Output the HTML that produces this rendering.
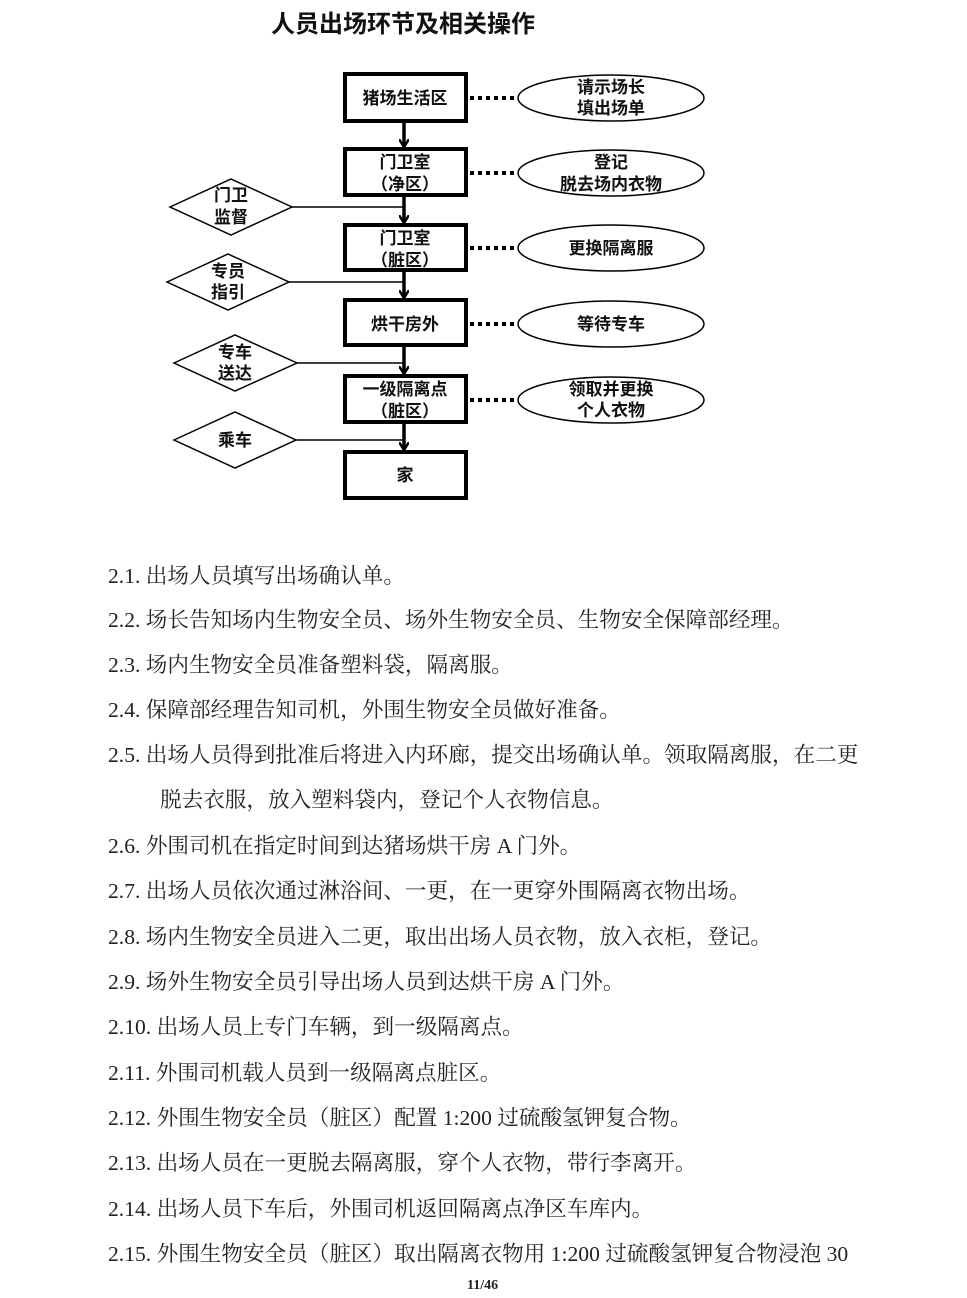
<!DOCTYPE html>
<html><head><meta charset="utf-8"><style>
body{margin:0;width:967px;height:1288px;background:#fff;position:relative;overflow:hidden}
.t{position:absolute;left:108px;font-family:"Liberation Serif","Noto Serif CJK SC",serif;font-size:21.6px;color:#222;white-space:nowrap;line-height:24px}
</style></head><body>
<svg width="967" height="520" style="position:absolute;left:0;top:0" font-family="Liberation Sans,Noto Sans CJK SC,sans-serif" font-weight="bold">
<defs><marker id="a" markerWidth="10" markerHeight="10" refX="7" refY="5" orient="auto" markerUnits="userSpaceOnUse"><path d="M0,0 L8,5 L0,10" fill="none" stroke="#000" stroke-width="2.5"/></marker></defs>
<text x="403" y="32" font-size="24" text-anchor="middle" fill="#111">人员出场环节及相关操作</text>
<g fill="#fff" stroke="#000" stroke-width="4">
<rect x="345" y="74" width="121" height="47"/>
<rect x="345" y="149" width="121" height="46"/>
<rect x="345" y="225" width="121" height="45"/>
<rect x="345" y="300" width="121" height="45"/>
<rect x="345" y="376" width="121" height="46"/>
<rect x="345" y="452" width="121" height="46"/>
</g>
<g fill="none" stroke="#000" stroke-width="1.5">
<ellipse cx="611" cy="98" rx="93" ry="23"/>
<ellipse cx="611" cy="173" rx="93" ry="23"/>
<ellipse cx="611" cy="248" rx="93" ry="23"/>
<ellipse cx="611" cy="324" rx="93" ry="23"/>
<ellipse cx="611" cy="400" rx="93" ry="23"/>
<polygon points="170,207 231,179 292,207 231,235"/>
<polygon points="167,282 228,254 289,282 228,310"/>
<polygon points="174,363 235,335 297,363 235,391"/>
<polygon points="174,440 235,412 296,440 235,468"/>
<line x1="292" y1="207" x2="404" y2="207"/>
<line x1="289" y1="282" x2="404" y2="282"/>
<line x1="297" y1="363" x2="404" y2="363"/>
<line x1="296" y1="440" x2="404" y2="440"/>
</g>
<g stroke="#000" stroke-width="3.5" marker-end="url(#a)">
<line x1="404" y1="121" x2="404" y2="146"/>
<line x1="404" y1="195" x2="404" y2="222"/>
<line x1="404" y1="270" x2="404" y2="297"/>
<line x1="404" y1="345" x2="404" y2="373"/>
<line x1="404" y1="422" x2="404" y2="449"/>
</g>
<g stroke="#000" stroke-width="4" stroke-dasharray="4,4">
<line x1="470" y1="98" x2="516" y2="98"/>
<line x1="470" y1="173" x2="516" y2="173"/>
<line x1="470" y1="248" x2="516" y2="248"/>
<line x1="470" y1="324" x2="516" y2="324"/>
<line x1="470" y1="400" x2="516" y2="400"/>
</g>
<g font-size="17" text-anchor="middle" fill="#111">
<text x="405" y="104">猪场生活区</text>
<text x="405" y="168">门卫室</text><text x="405" y="190">（净区）</text>
<text x="405" y="244">门卫室</text><text x="405" y="266">（脏区）</text>
<text x="405" y="330">烘干房外</text>
<text x="405" y="395">一级隔离点</text><text x="405" y="417">（脏区）</text>
<text x="405" y="481">家</text>
<text x="611" y="93">请示场长</text><text x="611" y="114">填出场单</text>
<text x="611" y="168">登记</text><text x="611" y="190">脱去场内衣物</text>
<text x="611" y="254">更换隔离服</text>
<text x="611" y="330">等待专车</text>
<text x="611" y="395">领取并更换</text><text x="611" y="416">个人衣物</text>
<text x="231" y="201">门卫</text><text x="231" y="223">监督</text>
<text x="228" y="277">专员</text><text x="228" y="298">指引</text>
<text x="235" y="358">专车</text><text x="235" y="379">送达</text>
<text x="235" y="446">乘车</text>
</g>
</svg>
<div class="t" style="top:564px">2.1. 出场人员填写出场确认单。</div>
<div class="t" style="top:608px">2.2. 场长告知场内生物安全员、场外生物安全员、生物安全保障部经理。</div>
<div class="t" style="top:653px">2.3. 场内生物安全员准备塑料袋，隔离服。</div>
<div class="t" style="top:698px">2.4. 保障部经理告知司机，外围生物安全员做好准备。</div>
<div class="t" style="top:743px">2.5. 出场人员得到批准后将进入内环廊，提交出场确认单。领取隔离服，在二更</div>
<div class="t" style="top:788px;left:160px">脱去衣服，放入塑料袋内，登记个人衣物信息。</div>
<div class="t" style="top:834px">2.6. 外围司机在指定时间到达猪场烘干房 A 门外。</div>
<div class="t" style="top:879px">2.7. 出场人员依次通过淋浴间、一更，在一更穿外围隔离衣物出场。</div>
<div class="t" style="top:925px">2.8. 场内生物安全员进入二更，取出出场人员衣物，放入衣柜，登记。</div>
<div class="t" style="top:970px">2.9. 场外生物安全员引导出场人员到达烘干房 A 门外。</div>
<div class="t" style="top:1015px">2.10. 出场人员上专门车辆，到一级隔离点。</div>
<div class="t" style="top:1061px">2.11. 外围司机载人员到一级隔离点脏区。</div>
<div class="t" style="top:1106px">2.12. 外围生物安全员（脏区）配置 1:200 过硫酸氢钾复合物。</div>
<div class="t" style="top:1151px">2.13. 出场人员在一更脱去隔离服，穿个人衣物，带行李离开。</div>
<div class="t" style="top:1197px">2.14. 出场人员下车后，外围司机返回隔离点净区车库内。</div>
<div class="t" style="top:1242px">2.15. 外围生物安全员（脏区）取出隔离衣物用 1:200 过硫酸氢钾复合物浸泡 30</div>
<div class="t" style="top:1274px;left:467px;font-size:14px;font-weight:bold">11/46</div>
</body></html>
